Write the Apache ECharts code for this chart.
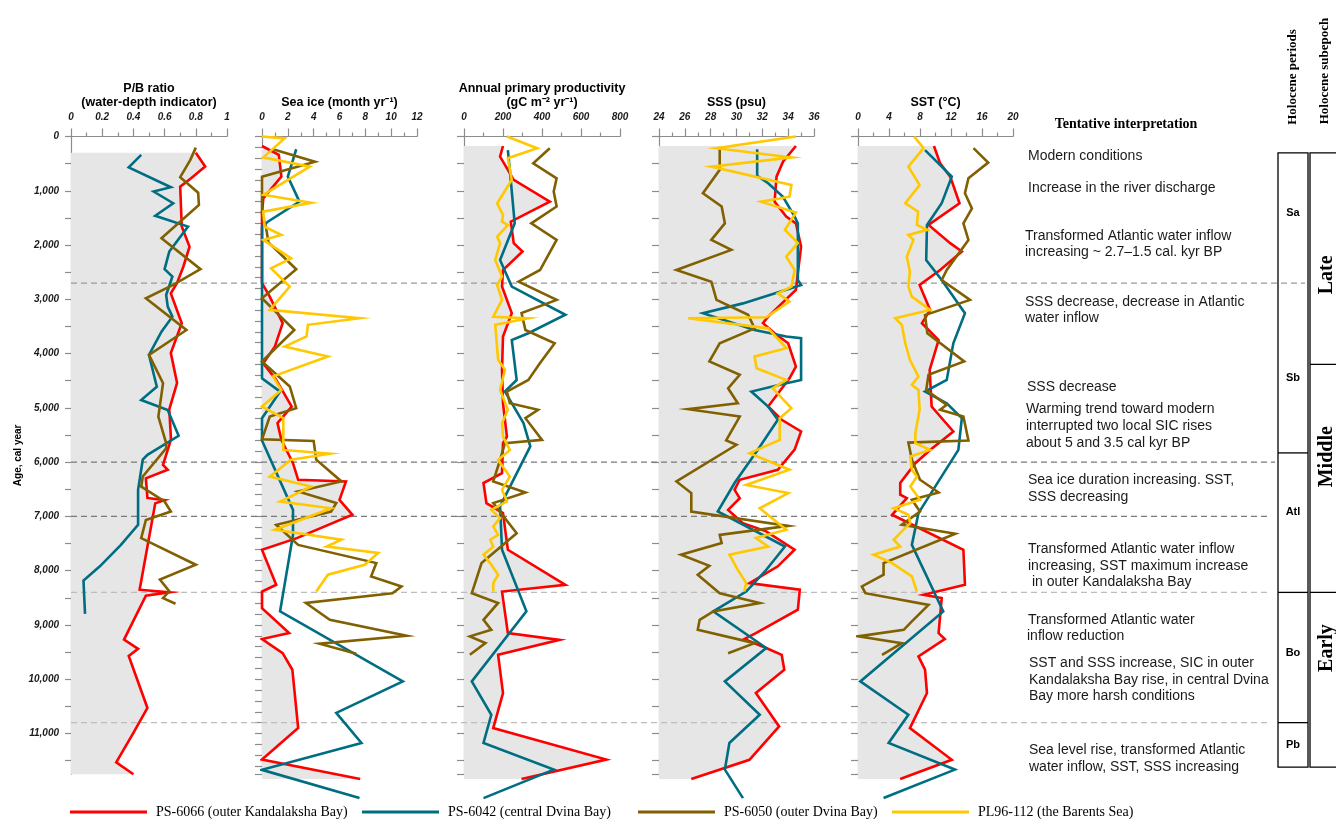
<!DOCTYPE html>
<html>
<head>
<meta charset="utf-8">
<script src="https://cdn.jsdelivr.net/npm/echarts@6/dist/echarts.min.js"></script>
<style>
html,body{margin:0;padding:0;background:#fff;}
#chart{width:1336px;height:819px;}
</style>
</head>
<body>
<div id="chart"></div>
<script>
// ---- Core records: each point is [value, age in cal. years BP] ----
// P/B ratio (water-depth indicator)
const pb6066 = [[0.80,300],[0.86,555],[0.77,770],[0.70,925],[0.71,1660],[0.76,2030],[0.72,2400],[0.68,2700],[0.64,2890],[0.71,3440],[0.64,3990],[0.68,4540],[0.63,5030],[0.64,5530],[0.64,5590],[0.59,6050],[0.62,6140],[0.48,6300],[0.49,6660],[0.60,6700],[0.54,6760],[0.44,8350],[0.63,8400],[0.48,8460],[0.34,9270],[0.43,9440],[0.37,9570],[0.49,10530],[0.40,10990],[0.29,11530],[0.40,11750]];
const pb6042 = [[0.45,340],[0.37,570],[0.64,935],[0.53,1015],[0.655,1230],[0.54,1460],[0.75,1660],[0.63,2120],[0.60,2445],[0.65,2580],[0.61,2920],[0.62,3135],[0.65,3320],[0.58,3595],[0.50,4025],[0.55,4610],[0.45,4855],[0.62,5040],[0.69,5515],[0.49,5865],[0.46,5955],[0.43,6510],[0.43,7155],[0.32,7525],[0.185,7920],[0.08,8180],[0.09,8795]];
const pb6050 = [[0.80,205],[0.765,430],[0.70,750],[0.815,1035],[0.82,1260],[0.58,1875],[0.83,2445],[0.655,2735],[0.48,2980],[0.74,3565],[0.50,4025],[0.59,4545],[0.56,5160],[0.61,5650],[0.61,5745],[0.46,6265],[0.45,6450],[0.60,6725],[0.64,6910],[0.48,7065],[0.45,7400],[0.80,7890],[0.57,8165],[0.63,8380],[0.59,8505],[0.67,8610]];

// Sea ice duration (month/yr)
const ice6066 = [[0,175],[1.3,340],[1.5,740],[0.1,1140],[0,1415],[0,2700],[0.6,2950],[1.6,3440],[1.0,3870],[0.1,4180],[1.1,4485],[2.3,4975],[1.2,5280],[1.5,5590],[2.4,6020],[2.8,6325],[6.5,6355],[6.0,6695],[7.0,6970],[2.7,7400],[0,7615],[1.1,8260],[0,8385],[0,8690],[2.1,9150],[0,9260],[1.6,9520],[2.35,9825],[2.8,10900],[0,11480],[7.6,11840]];
const ice6042 = [[2.65,235],[2.0,740],[2.9,1200],[0.45,1570],[0,1660],[0,4455],[1.4,4700],[0,5190],[0,5600],[2.4,6880],[2.4,7340],[1.4,8750],[10.9,10040],[5.75,10620],[7.7,11175],[0,11670],[7.55,12190]];
const ice6050 = [[0.85,235],[4.1,465],[0,740],[0,1420],[0.3,1660],[0.5,1950],[2.65,2445],[0,2980],[2.5,3565],[0,4145],[2.15,4605],[2.65,5005],[0.6,5160],[0,5580],[4.0,5610],[4.2,5955],[6.15,6355],[2.8,6540],[5.75,6755],[5.35,6910],[1.1,7155],[2.8,7525],[8.85,7860],[8.45,8105],[10.8,8290],[10.1,8415],[3.4,8595],[5.25,8905],[11.2,9200],[4.45,9345],[7.3,9530]];
const ice112 = [[0,0],[1.75,35],[0.1,385],[3.7,555],[0.1,1075],[3.8,1220],[0.1,1385],[0.2,1660],[1.5,1815],[0.1,1905],[2.25,2245],[0.7,2430],[2.15,2765],[0.6,3195],[7.55,3350],[3.55,3470],[3.45,3685],[1.75,3870],[5.1,4055],[0.85,4420],[1.5,4670],[0,4975],[1.65,5190],[1.65,5775],[5.25,5845],[2.25,5955],[0.6,6265],[3.8,6450],[1.4,6725],[5.35,6850],[1.0,7245],[6.15,7430],[5.0,7555],[9.0,7675],[7.95,7890],[5.1,8075],[4.2,8385]];

// Annual primary productivity (gC m-2 yr-1)
const pp6066 = [[200,175],[185,370],[255,800],[440,1200],[240,1570],[255,1965],[300,2120],[200,2460],[195,2765],[245,3255],[200,3685],[195,4300],[200,4915],[220,5530],[200,5650],[195,6205],[100,6385],[115,6755],[200,6940],[225,7615],[520,8260],[195,8385],[225,9150],[490,9275],[175,9550],[200,10255],[150,10900],[730,11480],[295,11840]];
const pp6042 = [[225,250],[235,615],[260,1600],[185,2275],[245,2765],[520,3285],[330,3625],[245,3750],[270,4485],[210,4700],[305,5280],[340,5710],[185,6815],[195,7615],[320,8750],[40,10040],[140,10655],[100,11175],[460,11665],[100,12190]];
const pp6050 = [[440,215],[355,495],[475,770],[460,1015],[475,1290],[345,1600],[475,1905],[390,2460],[280,2675],[475,3010],[295,3255],[315,3565],[465,3810],[390,4175],[330,4485],[220,4700],[235,4915],[380,5035],[315,5190],[400,5590],[210,5650],[185,5960],[150,6355],[315,6560],[150,6755],[270,7310],[90,7860],[40,8415],[175,8595],[100,8905],[140,9090],[30,9210],[110,9335],[30,9550]];
const pp112 = [[220,0],[375,215],[225,400],[245,800],[170,1230],[200,1445],[195,1570],[225,1630],[170,1845],[185,1965],[160,2275],[195,2580],[170,2735],[195,3010],[150,3320],[330,3350],[160,3470],[175,4115],[210,4300],[185,4670],[225,5035],[195,5285],[200,5530],[235,5775],[175,5960],[235,6265],[195,6510],[220,6725],[140,6880],[185,7030],[150,7185],[175,7340],[135,7430],[150,7555],[100,7705],[140,7890],[175,8075],[150,8230],[150,8385]];

// Sea surface salinity (psu)
const sss6066 = [[34.6,175],[33.6,465],[33.1,740],[32.95,1200],[33.85,1475],[34.6,1600],[35.0,2030],[34.75,2520],[34.6,2825],[32.45,3320],[32.05,3440],[32.95,3625],[34.0,3810],[34.6,4240],[34.1,4455],[32.45,4975],[33.5,5220],[35.0,5435],[34.5,5770],[33.2,6140],[30.25,6325],[29.85,6510],[30.25,6665],[29.35,6880],[30.5,7125],[32.3,7275],[34.5,7615],[33.2,7920],[31.0,8230],[34.9,8350],[34.75,8720],[31.5,9150],[30.6,9260],[32.3,9425],[33.5,9550],[33.7,9825],[31.5,10255],[33.3,10870],[31.0,11485],[26.5,11840]];
const sss6042 = [[31.6,235],[31.6,725],[32.45,860],[33.6,1110],[34.5,1475],[34.75,1600],[34.75,2645],[35.0,2735],[33.85,2825],[30.5,3075],[27.4,3255],[31.4,3565],[33.85,3685],[35.0,3715],[35.0,4485],[33.35,4575],[31.15,4700],[32.45,4975],[33.2,5220],[31.65,5770],[29.85,6385],[28.55,6910],[33.75,7555],[32.2,8015],[30.75,8385],[28.2,8750],[32.3,9425],[29.1,10040],[31.8,10655],[29.45,11175],[29.1,11665],[30.5,12190]];
const sss6050 = [[28.7,235],[28.7,615],[27.4,1045],[28.85,1290],[29.1,1600],[28.05,1905],[29.6,2090],[25.35,2460],[28.05,2675],[28.45,3010],[30.9,3285],[31.4,3535],[28.7,3810],[27.9,4145],[30.25,4390],[29.35,4640],[30.1,4915],[26.25,5025],[30.25,5160],[29.2,5600],[30.0,5680],[25.35,6355],[26.5,6570],[26.5,6910],[34.0,7175],[28.7,7340],[28.85,7490],[25.7,7705],[27.9,7910],[27.0,8075],[28.7,8415],[31.8,8595],[28.2,8750],[27.15,8905],[27.0,9090],[31.4,9335],[29.35,9520]];
const sss112 = [[34.6,0],[28.45,215],[34.25,385],[28.05,555],[34.25,895],[34.1,1110],[31.9,1200],[34.6,1400],[33.75,1720],[34.75,1965],[33.85,2215],[34.5,2460],[34.25,2765],[33.2,2890],[34.1,3040],[32.3,3330],[26.25,3350],[32.45,3535],[33.85,3900],[31.4,4055],[31.55,4270],[33.85,4485],[32.8,4640],[34.25,5005],[33.35,5190],[33.35,5590],[31.0,5835],[34.1,6140],[30.75,6420],[34.0,6570],[31.8,6850],[33.85,7245],[31.5,7400],[32.45,7555],[29.45,7705],[30.1,7985],[30.75,8230],[30.6,8385]];

// Sea surface temperature (°C)
const sst6066 = [[9.8,175],[10.6,495],[11.9,740],[13.1,1230],[9.1,1630],[11.9,1965],[13.4,2120],[10.6,2460],[7.95,2735],[9.3,3195],[8.25,3440],[10.4,3750],[9.25,4300],[9.5,4975],[12.3,5435],[9.3,5775],[7.4,6020],[5.45,6385],[5.45,6600],[6.3,6665],[4.4,6970],[13.6,7615],[13.8,8260],[8.45,8445],[10.8,8505],[10.4,9150],[11.2,9260],[7.8,9580],[8.65,9825],[8.9,10255],[6.7,10900],[12.1,11485],[5.45,11840]];
const sst6042 = [[8.65,250],[12.1,740],[10.8,1230],[8.9,1630],[8.8,2275],[10.8,2645],[13.8,3255],[12.3,3810],[11.45,4485],[8.65,4700],[11.45,4915],[13.4,5190],[12.95,5775],[7.8,6940],[6.95,7525],[11.0,8750],[0.3,10040],[6.5,10655],[3.95,11175],[12.5,11665],[3.3,12190]];
const sst6050 = [[14.9,215],[16.8,480],[14.25,770],[13.8,1045],[14.7,1325],[13.6,1600],[14.25,1905],[11.45,2460],[10.8,2645],[14.45,3010],[8.65,3290],[8.95,3625],[13.7,4145],[9.1,4390],[8.8,4670],[11.45,4945],[10.6,5035],[13.6,5160],[14.25,5600],[6.5,5640],[6.95,5955],[8.0,6325],[10.4,6560],[6.95,6695],[8.0,6910],[5.65,7155],[12.55,7320],[3.3,7860],[3.3,8075],[0.5,8290],[0.95,8415],[9.1,8630],[6.95,8935],[5.9,9090],[0,9210],[5.65,9335],[3.1,9550]];
const sst112 = [[7.25,0],[8.45,215],[6.5,555],[7.95,895],[6.1,1230],[7.75,1385],[7.6,1630],[8.95,1720],[6.5,1815],[7.15,1905],[6.3,2215],[6.7,2490],[6.5,2765],[6.95,2950],[9.3,3195],[4.8,3350],[5.65,3470],[6.1,3810],[6.7,4115],[7.8,4425],[6.95,4575],[7.8,4670],[7.95,5035],[7.4,5465],[7.4,5650],[9.3,5775],[6.75,5895],[6.95,6140],[7.6,6265],[6.75,6450],[8.0,6695],[4.6,6850],[6.5,6970],[6.75,7125],[5.65,7275],[4.6,7430],[5.45,7555],[2.0,7705],[4.4,7860],[6.95,8105],[7.6,8385]];

// Cores, stratigraphic boundaries and Holocene divisions
const coreNames = ['PS-6066 (outer Kandalaksha Bay)','PS-6042 (central Dvina Bay)','PS-6050 (outer Dvina Bay)','PL96-112 (the Barents Sea)'];
const boundaryAges = [2700, 6000, 7000, 8400, 10800];
const periodNames = ['Sa','Sb','Atl','Bo','Pb'];
const periodLabelAges = [1400, 4450, 6920, 9510, 11210];
const periodEdges = [300, 5830, 8400, 10800, 11620];
const subepochNames = ['Late','Middle','Early'];
const subepochLabelAges = [2550, 5900, 9425];
const subepochEdges = [300, 4200, 8400, 11620];

// ---- Layout ----
const SANS = 'Liberation Sans, Arial, sans-serif';
const SERIF = 'Liberation Serif, Times New Roman, serif';
const COLORS = ['#ff0000','#006e82','#806000','#ffc800'];
const AGE_MAX = 11750;
const TOP = 136.5, HEIGHT = 637.7;

const panels = [
  {left:71,  width:156, min:0,  max:1,   interval:0.2, ageStep:500, title:['P/B ratio','(water-depth indicator)'], data:[pb6066,pb6042,pb6050,null]},
  {left:262, width:155, min:0,  max:12,  interval:2,   ageStep:200, title:['Sea ice (month yr\u207B\u00B9)'], data:[ice6066,ice6042,ice6050,ice112]},
  {left:464, width:156, min:0,  max:800, interval:200, ageStep:500, title:['Annual primary productivity','(gC m\u207B\u00B2 yr\u207B\u00B9)'], data:[pp6066,pp6042,pp6050,pp112]},
  {left:659, width:155, min:24, max:36,  interval:2,   ageStep:500, title:['SSS (psu)'], data:[sss6066,sss6042,sss6050,sss112]},
  {left:858, width:155, min:0,  max:20,  interval:4,   ageStep:500, title:['SST (\u00B0C)'], data:[sst6066,sst6042,sst6050,sst112]}
];

const grid = [], xAxis = [], yAxis = [], series = [];
const axisGrey = '#8c8c8c';
const tickFont = {fontFamily: SANS, fontSize: 10, fontWeight: 'bold', fontStyle: 'italic', color: '#1a1a1a'};

panels.forEach((p, i) => {
  grid.push({left: p.left, top: TOP, width: p.width, height: HEIGHT});
  xAxis.push({
    gridIndex: i, type: 'value', position: 'top', min: p.min, max: p.max, interval: p.interval,
    axisLine: {show: true, lineStyle: {color: axisGrey, width: 1.2}},
    axisTick: {show: true, inside: false, length: 8, lineStyle: {color: axisGrey, width: 1.2}},
    minorTick: {show: true, splitNumber: 2, length: 4, lineStyle: {color: axisGrey, width: 1.2}},
    splitLine: {show: false},
    axisLabel: Object.assign({margin: 14}, tickFont)
  });
  yAxis.push({
    gridIndex: i, type: 'value', inverse: true, min: 0, max: AGE_MAX, interval: p.ageStep,
    axisLine: {show: true, lineStyle: {color: axisGrey, width: 1.2}},
    axisTick: {show: true, inside: false, length: i === 0 ? 6 : 7, lineStyle: {color: axisGrey, width: 1.2}},
    splitLine: {show: false},
    axisLabel: i === 0 ? Object.assign({
      margin: 12, showMaxLabel: false,
      formatter: v => (v % 1000 === 0 ? v.toLocaleString('en-US') : '')
    }, tickFont) : {show: false},
    name: i === 0 ? 'Age, cal year' : '',
    nameLocation: 'middle', nameRotate: 90, nameGap: 48,
    nameTextStyle: {fontFamily: SANS, fontSize: 10, fontWeight: 'bold', color: '#000'}
  });

  // grey shading between the axis and the PS-6066 curve
  const ref = p.data[0];
  const base = p.min;
  series.push({
    type: 'custom', xAxisIndex: i, yAxisIndex: i, silent: true, clip: false, z: 1,
    data: [[base, 0]],
    renderItem: (params, api) => {
      const pts = [api.coord([base, ref[0][1]])];
      ref.forEach(d => pts.push(api.coord(d)));
      pts.push(api.coord([base, ref[ref.length - 1][1]]));
      return {type: 'polygon', shape: {points: pts}, style: {fill: '#e6e6e6'}};
    }
  });

  p.data.forEach((d, k) => {
    if (!d) return;
    series.push({
      type: 'line', name: coreNames[k], xAxisIndex: i, yAxisIndex: i, data: d,
      symbol: 'none', clip: false, z: 3 + k, animation: false,
      lineStyle: {color: COLORS[k], width: 2.6, join: 'miter'},
      itemStyle: {color: COLORS[k]}
    });
  });
});

// Full-width overlay: x in page pixels, y in age
const OV = panels.length;
grid.push({left: 0, top: TOP, width: 1336, height: HEIGHT});
xAxis.push({gridIndex: OV, type: 'value', min: 0, max: 1336, show: false});
yAxis.push({gridIndex: OV, type: 'value', inverse: true, min: 0, max: AGE_MAX, show: false});

// dashed stratigraphic boundaries
const boundaryStyle = [
  {end: 1305, color: '#9a9a9a'},
  {end: 1275, color: '#7a7a7a'},
  {end: 1270, color: '#7a7a7a'},
  {end: 1268, color: '#bdbdbd'},
  {end: 1270, color: '#bdbdbd'}
];
series.push({
  type: 'custom', xAxisIndex: OV, yAxisIndex: OV, silent: true, clip: false, z: 2,
  data: boundaryAges.map(a => [0, a]),
  renderItem: (params, api) => {
    const s = boundaryStyle[params.dataIndex];
    const a = api.coord([71, api.value(1)]);
    const b = api.coord([s.end, api.value(1)]);
    return {type: 'line', shape: {x1: a[0], y1: a[1], x2: b[0], y2: b[1]},
      style: {stroke: s.color, lineWidth: 1.2, lineDash: [6, 4]}};
  }
});

// Holocene periods and subepochs columns
series.push({
  type: 'custom', xAxisIndex: OV, yAxisIndex: OV, silent: true, clip: false, z: 5,
  data: [[0, 0]],
  renderItem: (params, api) => {
    const children = [];
    const frame = (x0, x1, edges) => {
      const t = api.coord([x0, edges[0]]), b = api.coord([x1, edges[edges.length - 1]]);
      children.push({type: 'rect', shape: {x: t[0], y: t[1], width: b[0] - t[0], height: b[1] - t[1]},
        style: {fill: 'none', stroke: '#000', lineWidth: 1.3}});
      edges.slice(1, -1).forEach(e => {
        const l = api.coord([x0, e]), r = api.coord([x1, e]);
        children.push({type: 'line', shape: {x1: l[0], y1: l[1], x2: r[0], y2: r[1]},
          style: {stroke: '#000', lineWidth: 1.3}});
      });
    };
    frame(1278, 1308, periodEdges);
    frame(1310, 1350, subepochEdges);
    periodNames.forEach((n, i) => {
      const c = api.coord([1293, periodLabelAges[i]]);
      children.push({type: 'text', x: c[0], y: c[1], style: {text: n, fill: '#000',
        font: 'bold 11px ' + SANS, textAlign: 'center', textVerticalAlign: 'middle'}});
    });
    subepochNames.forEach((n, i) => {
      const c = api.coord([1327, subepochLabelAges[i]]);
      children.push({type: 'text', x: c[0], y: c[1], rotation: Math.PI / 2, style: {text: n, fill: '#000',
        font: 'bold 20px ' + SERIF, textAlign: 'center', textVerticalAlign: 'middle'}});
    });
    return {type: 'group', children};
  }
});

// ---- Static text ----
const graphic = [];
panels.forEach(p => {
  const cx = p.left + p.width / 2;
  const lines = p.title;
  lines.forEach((t, j) => {
    const y = lines.length === 2 ? (j === 0 ? 89 : 103) : 103;
    graphic.push({type: 'text', x: cx, y: y, silent: true,
      style: {text: t, fill: '#000', font: 'bold 12.5px ' + SANS, textAlign: 'center', textVerticalAlign: 'middle'}});
  });
});

const notes = [
  ['Modern conditions', 1028, 156],
  ['Increase in the river discharge', 1028, 188],
  ['Transformed Atlantic water inflow', 1025, 236],
  ['increasing ~ 2.7\u20131.5 cal. kyr BP', 1025, 252],
  ['SSS decrease, decrease in Atlantic', 1025, 302],
  ['water inflow', 1025, 318],
  ['SSS decrease', 1027, 387],
  ['Warming trend toward modern', 1026, 409],
  ['interrupted two local SIC rises', 1026, 426],
  ['about 5 and 3.5 cal kyr BP', 1026, 443],
  ['Sea ice duration increasing. SST,', 1028, 480],
  ['SSS decreasing', 1028, 497],
  ['Transformed Atlantic water inflow', 1028, 549],
  ['increasing, SST maximum increase', 1028, 566],
  [' in outer Kandalaksha Bay', 1028, 582],
  ['Transformed Atlantic water', 1028, 620],
  ['inflow reduction', 1027, 636],
  ['SST and SSS increase, SIC in outer', 1029, 663],
  ['Kandalaksha Bay rise, in central Dvina', 1029, 680],
  ['Bay more harsh conditions', 1029, 696],
  ['Sea level rise, transformed Atlantic', 1029, 750],
  ['water inflow, SST, SSS increasing', 1029, 767]
];
notes.forEach(n => graphic.push({type: 'text', x: n[1], y: n[2], silent: true,
  style: {text: n[0], fill: '#1a1a1a', font: '14px ' + SANS, textAlign: 'left', textVerticalAlign: 'middle'}}));

graphic.push({type: 'text', x: 1126, y: 124, silent: true,
  style: {text: 'Tentative interpretation', fill: '#000', font: 'bold 14px ' + SERIF, textAlign: 'center', textVerticalAlign: 'middle'}});
graphic.push({type: 'text', x: 1293, y: 77, rotation: Math.PI / 2, silent: true,
  style: {text: 'Holocene periods', fill: '#000', font: 'bold 13px ' + SERIF, textAlign: 'center', textVerticalAlign: 'middle'}});
graphic.push({type: 'text', x: 1325, y: 71, rotation: Math.PI / 2, silent: true,
  style: {text: 'Holocene subepoch', fill: '#000', font: 'bold 13px ' + SERIF, textAlign: 'center', textVerticalAlign: 'middle'}});

// one legend block per core, spread along the bottom edge
const legendLefts = [70, 362, 638, 892];
const legend = coreNames.map((n, k) => ({
  data: [n], left: legendLefts[k], top: 805, padding: 0, icon: 'rect',
  itemWidth: 77, itemHeight: 3, selectedMode: false,
  textStyle: {fontFamily: SERIF, fontSize: 14, color: '#000', padding: [0, 0, 0, 4]}
}));

const chart = echarts.init(document.getElementById('chart'));
chart.setOption({
  backgroundColor: '#fff',
  animation: false,
  grid, xAxis, yAxis, series, graphic, legend
});
</script>
</body>
</html>
